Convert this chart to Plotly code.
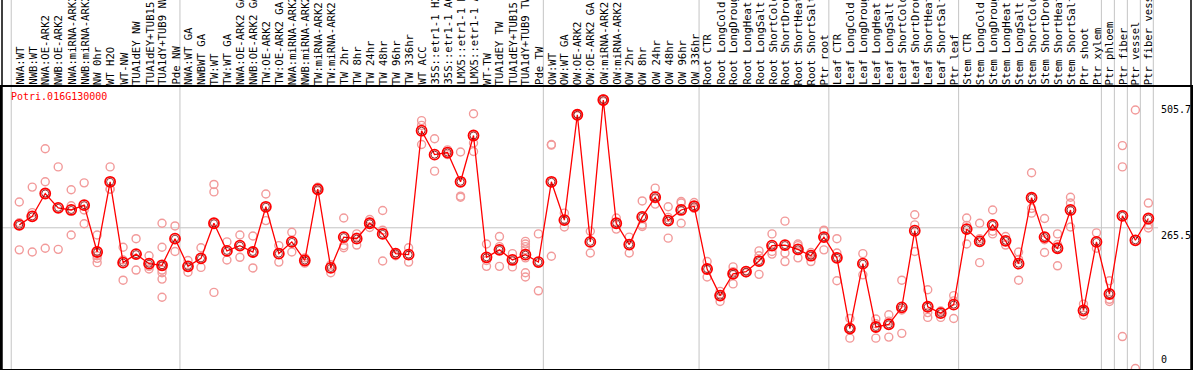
import plotly.graph_objects as go

gene = "Potri.016G130000"

labels = [
    "NWA:WT", "NWB:WT", "NWA:OE-ARK2", "NWB:OE-ARK2", "NWA:miRNA-ARK2", "NWB:miRNA-ARK2",
    "NW 0hr", "WT H2O", "WT-NW", "TUA1dEY NW", "TUA1dEY+TUB15", "TUA1dY+TUB9 NW", "Pde NW",
    "NWA:WT GA", "NWBWT GA", "TW:WT", "TW:WT GA", "NWA:OE-ARK2 GA", "NWB:OE-ARK2 GA",
    "TW:OE-ARK2", "TW:OE-ARK2 GA", "NWA:miRNA-ARK2 GA", "NWB:miRNA-ARK2 GA", "TW:miRNA-ARK2",
    "TW:miRNA-ARK2 GA", "TW 2hr", "TW 8hr", "TW 24hr", "TW 48hr", "TW 96hr", "TW 336hr",
    "WT ACC", "35S::etr1-1 H2O", "35S::etr1-1 ACC", "LMX5::etr1-1 H2O", "LMX5::etr1-1 ACC",
    "WT-TW", "TUA1dEY TW", "TUA1dEY+TUB15", "TUA1dY+TUB9 TW", "Pde TW",
    "OW:WT", "OW:WT GA", "OW:OE-ARK2", "OW:OE-ARK2 GA", "OW:miRNA-ARK2", "OW:miRNA-ARK2 GA",
    "OW 2hr", "OW 8hr", "OW 24hr", "OW 48hr", "OW 96hr", "OW 336hr",
    "Root CTR", "Root LongCold", "Root LongDrought", "Root LongHeat", "Root LongSalt",
    "Root ShortCold", "Root ShortDrought", "Root ShortHeat", "Root ShortSalt", "Ptr root",
    "Leaf CTR", "Leaf LongCold", "Leaf LongDrought", "Leaf LongHeat", "Leaf LongSalt",
    "Leaf ShortCold", "Leaf ShortDrought", "Leaf ShortHeat", "Leaf ShortSalt", "Ptr leaf",
    "Stem CTR", "Stem LongCold", "Stem LongDrought", "Stem LongHeat", "Stem LongSalt",
    "Stem ShortCold", "Stem ShortDrought", "Stem ShortHeat", "Stem ShortSalt", "Ptr shoot",
    "Ptr xylem", "Ptr phloem", "Ptr fiber", "Ptr vessel", "Ptr fiber vessel",
]

# sizes of the label groups separated by vertical grid lines
group_sizes = [13, 28, 12, 10, 10, 11, 1, 1, 1, 1]

means = [
    271, 287, 330, 303, 299, 308, 220, 352, 200, 216, 198, 195, 245,
    193, 208, 274, 222, 232, 220, 305, 217, 239, 204, 338, 190, 248, 245, 274, 254, 217,
    215, 448, 403, 407, 352, 439, 210, 224, 205, 215, 201,
    352, 280, 478, 239, 505.7, 274, 234, 286, 323, 279, 299, 306,
    188, 138, 179, 183, 203, 232, 233, 225, 213, 248,
    209, 76, 198, 79, 84, 116, 260, 117, 105, 121,
    263, 240, 271, 241, 198, 322, 248, 227, 299, 110, 239,
    141, 288, 242, 283,
]

replicates = [
    [314, 224, 275], [342, 294, 220], [414, 352, 227], [380, 225], [337, 307, 252],
    [350, 299, 273], [252, 213, 208, 200], [380, 338, 338], [229, 205, 167], [245, 186],
    [213, 193, 188], [274, 229, 193, 186, 181, 169, 135], [269, 221],
    [204, 182], [228, 191], [347, 333, 144], [239, 205], [252, 210], [250, 190],
    [329, 279], [232, 201], [257, 220], [209, 199], [342, 335], [196, 181],
    [284, 232, 228], [254, 248, 233], [281, 276, 266], [298, 261, 203], [218, 213],
    [228, 201], [467, 458, 422], [433, 372], [412, 403], [408, 325, 323],
    [480, 425, 409], [235, 204, 193], [249, 230, 193], [217, 192],
    [240, 235, 230, 224, 209, 181, 173], [254, 147],
    [422, 421, 212], [293, 267], [480, 476], [259, 218], [508, 503], [284, 263],
    [248, 218], [316, 271, 268], [340, 310, 320], [305, 285, 246], [315, 312, 274],
    [313, 303, 302],
    [202, 173], [146, 127], [192, 183, 160], [185, 181], [222, 213, 178],
    [254, 221, 216], [278, 218, 202], [235, 232, 209], [219, 202, 215], [261, 224, 260],
    [245, 218, 166], [95, 58, 76], [217, 177], [94, 58, 85], [102, 60, 90],
    [167, 111, 67], [290, 271, 221], [149, 97, 106], [109, 97, 108], [138, 95, 128],
    [284, 235, 270], [274, 200, 245], [299, 254, 259], [249, 233], [220, 167, 206],
    [369, 293, 302], [283, 219, 243], [254, 194, 234], [323, 312, 267], [122, 101],
    [256, 227], [166, 127, 131], [420, 380, 61], [487, 1], [312, 271, 265],
]

y_ticks = [0, 265.5, 505.7]
y_tick_text = ["0", "265.5", "505.7"]

# ---------------------------------------------------------------------------
W, H = 1194, 370
ML, MR, MT, MB = 2, 1, 87, 1
PX_PER_CAT = 13.0
FIRST_PX = 19.3
XMIN = (ML - FIRST_PX) / PX_PER_CAT
XMAX = (W - MR - FIRST_PX) / PX_PER_CAT
YMAX = 530.2
HEAD = 1 + MT / (H - MT - MB)

x = list(range(len(labels)))
rx, ry = [], []
for i, reps in enumerate(replicates):
    for v in reps:
        rx.append(i)
        ry.append(v)

MONO = "DejaVu Sans Mono"

fig = go.Figure()
fig.add_trace(go.Scatter(
    x=rx, y=ry, mode="markers", cliponaxis=False,
    marker=dict(symbol="circle-open", size=8, color="#f29a9a", line=dict(width=1.4)),
    hoverinfo="skip", showlegend=False,
))
fig.add_trace(go.Scatter(
    x=x, y=means, mode="lines", line=dict(color="#ff0000", width=1.3),
    hoverinfo="skip", showlegend=False,
))
fig.add_trace(go.Scatter(
    x=x, y=means, mode="markers", cliponaxis=False,
    marker=dict(symbol="circle-open", size=10, color="#ff0000", line=dict(width=1.8)),
    showlegend=False,
))
fig.add_trace(go.Scatter(
    x=x, y=means, mode="markers", cliponaxis=False,
    marker=dict(symbol="circle-open", size=7, color="#7a0000", line=dict(width=0.8)),
    hoverinfo="skip", showlegend=False,
))

shapes = []
# vertical group separators
b = -1
bounds = [b]
for g in group_sizes:
    b += g
    bounds.append(b)
for bd in bounds:
    shapes.append(dict(type="line", xref="x", yref="paper", x0=bd + 0.38, x1=bd + 0.38,
                       y0=0, y1=HEAD, line=dict(color="#c4c4c4", width=1), layer="below"))
# horizontal middle gridline
shapes.append(dict(type="line", xref="x", yref="y", x0=XMIN, x1=87.75,
                   y0=y_ticks[1], y1=y_ticks[1],
                   line=dict(color="#c4c4c4", width=1), layer="below"))
# frame lines through header
for xp in (0, 1):
    shapes.append(dict(type="line", xref="paper", yref="paper", x0=xp, x1=xp,
                       y0=0, y1=HEAD, line=dict(color="black", width=1.5)))

annotations = []
for i, lab in enumerate(labels):
    annotations.append(dict(
        x=i, y=1, xref="x", yref="paper", text=lab, textangle=-90,
        xanchor="center", yanchor="bottom", showarrow=False, yshift=0,
        font=dict(family=MONO, size=10.6, color="black"),
    ))
annotations.append(dict(
    x=0.006, y=1, xref="paper", yref="paper", text=gene, showarrow=False,
    xanchor="left", yanchor="top", yshift=-2,
    font=dict(family=MONO, size=10, color="#ff0000"),
))
ypos_anchor = {0: ("bottom", 2), 1: ("top", 0), 2: ("top", -2)}
for k, (v, t) in enumerate(zip(y_ticks, y_tick_text)):
    anc, sh = ypos_anchor[k]
    annotations.append(dict(
        x=(1161 - ML) / (W - ML - MR), y=v, xref="paper", yref="y", text=t,
        showarrow=False, xanchor="left", yanchor=anc, yshift=sh,
        font=dict(family=MONO, size=10, color="black"),
    ))

fig.update_layout(
    width=W, height=H,
    margin=dict(l=ML, r=MR, t=MT, b=MB),
    paper_bgcolor="white", plot_bgcolor="white",
    xaxis=dict(range=[XMIN, XMAX], showgrid=False, zeroline=False, showticklabels=False,
               showline=True, mirror=True, linecolor="black", linewidth=1.5, ticks=""),
    yaxis=dict(range=[0, YMAX], showgrid=False, zeroline=False, showticklabels=False,
               showline=True, mirror=True, linecolor="black", linewidth=1.5, ticks="",
               tickvals=y_ticks),
    shapes=shapes,
    annotations=annotations,
    showlegend=False,
    hovermode="closest",
)

fig.write_html(
    "out.html",
    config={"displayModeBar": False},
    post_script="document.body.style.margin='0px';document.body.style.overflow='hidden';",
)
